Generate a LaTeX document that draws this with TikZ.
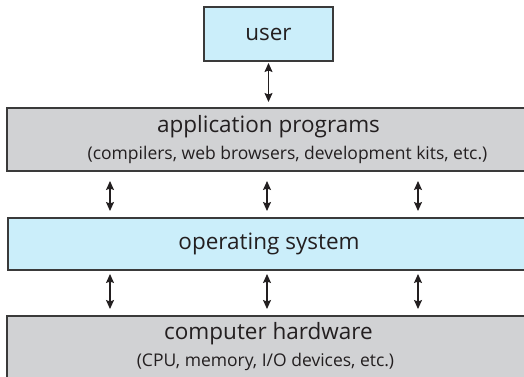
\documentclass[tikz,border=0pt]{standalone}
\usepackage{fontspec}
\setmainfont{Open Sans}
\usetikzlibrary{arrows.meta}
\definecolor{boxblue}{HTML}{CBEEFA}
\definecolor{boxgray}{HTML}{D1D2D4}
\definecolor{ink}{HTML}{231F20}
\definecolor{edge}{HTML}{3A3A3A}
\begin{document}
\begin{tikzpicture}[x=1pt,y=-1pt,
  layer/.style={draw=edge, line width=2pt, text=ink, align=center, inner sep=0pt, font=\fontsize{22.5}{27}\selectfont},
  twoway/.style={{Stealth[length=9pt,width=8pt,inset=1.5pt]}-{Stealth[length=9pt,width=8pt,inset=1.5pt]}, line width=1.2pt, draw=ink}]
\useasboundingbox (0,0) rectangle (524,376);
\fill[white] (0,0) rectangle (524,376);
\clip (0,0) rectangle (524,376);
\node[layer, fill=boxblue, minimum width=129pt, minimum height=54pt] (user) at (268.5,34) {user};
\node[layer, fill=boxgray, minimum width=523pt, minimum height=63pt] (app) at (268.5,139.5)
  {application programs\\{\fontsize{17.5}{27}\selectfont \hspace*{38pt}(compilers, web browsers, development kits, etc.)}};
\node[layer, fill=boxblue, minimum width=522pt, minimum height=52pt] (os) at (269,244) {operating system};
\node[layer, fill=boxgray, minimum width=523pt, minimum height=62pt] (hw) at (268.5,347)
  {computer hardware\\{\fontsize{17.5}{26}\selectfont (CPU, memory, I/O devices, etc.)\hspace*{6pt}}};
\coordinate (ca) at (110,0);
\coordinate (cb) at (267,0);
\coordinate (cc) at (418,0);
\draw[twoway, shorten <=1pt, shorten >=5pt] (user.south) -- (app.north -| user.south);
\foreach \c in {ca,cb,cc}{
  \draw[twoway, shorten <=9pt, shorten >=6pt] (app.south -| \c) -- (os.north -| \c);
  \draw[twoway, shorten <=3pt, shorten >=6pt] (os.south -| \c) -- (hw.north -| \c);
}
\end{tikzpicture}
\end{document}
